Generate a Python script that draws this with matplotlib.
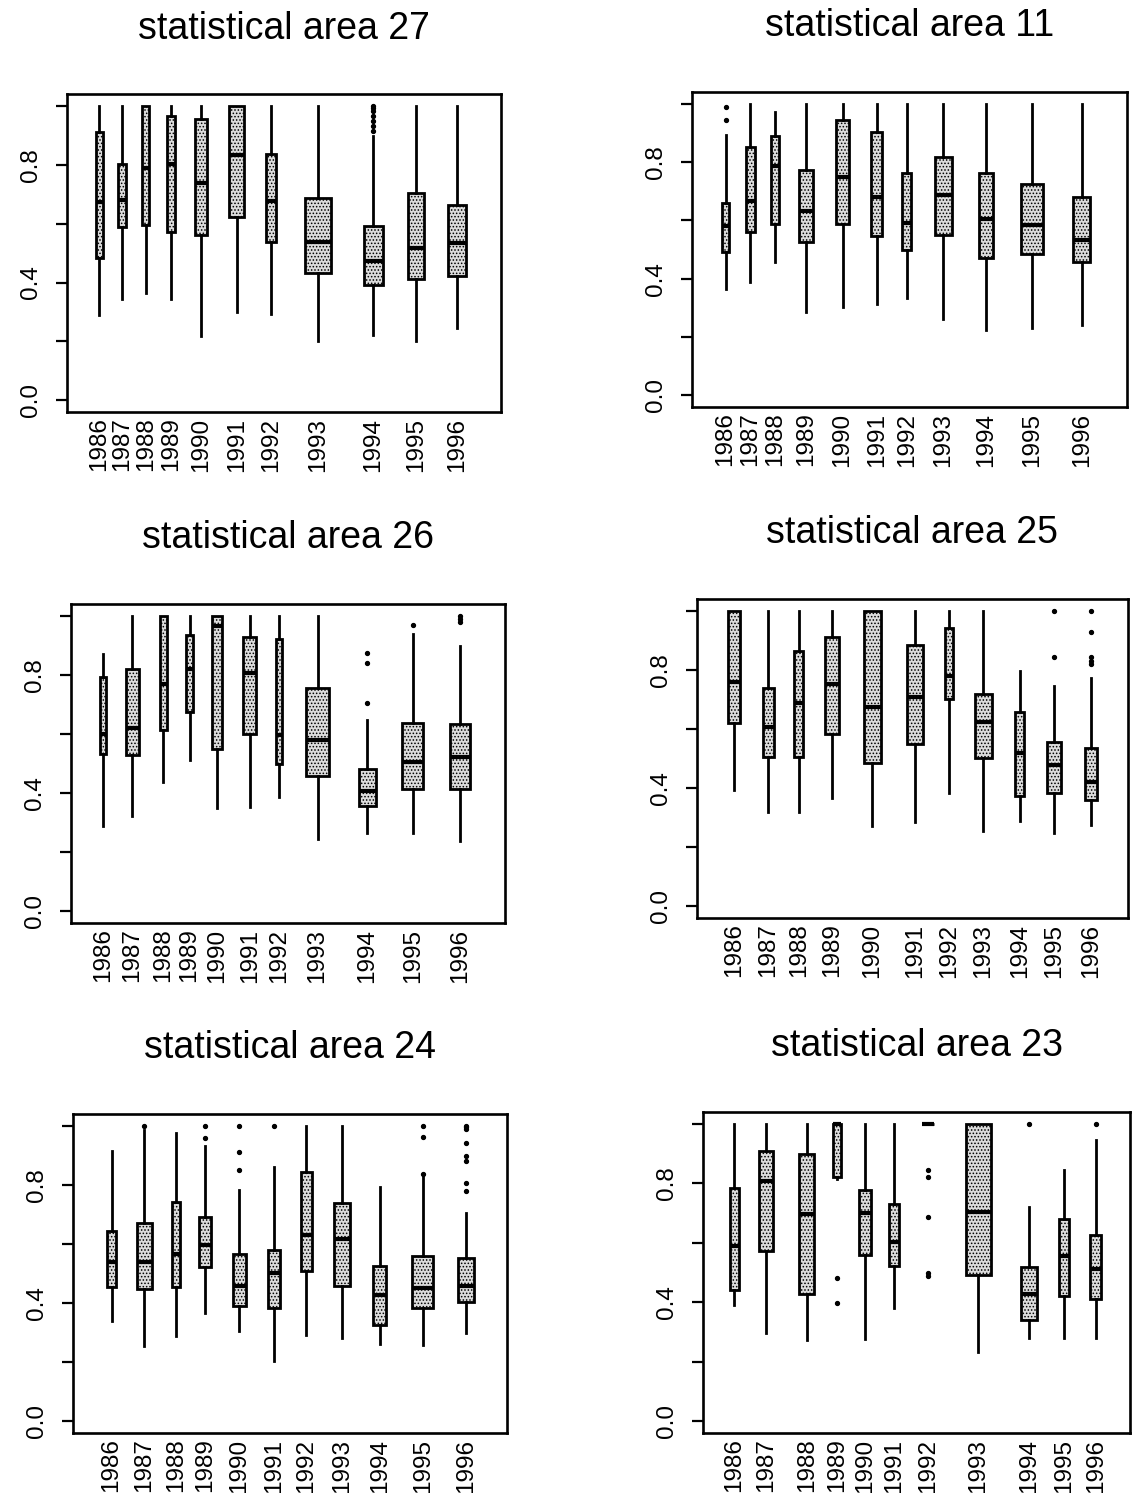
import numpy as np
import matplotlib.pyplot as plt

plt.rcParams['font.family'] = ['Liberation Sans', 'DejaVu Sans']
plt.rcParams['hatch.linewidth'] = 0.7

years = [str(y) for y in range(1986, 1997)]

# five-number summaries per year: (lower whisker, q1, median, q3, upper whisker)
area27 = [
    (0.288, 0.482, 0.672, 0.911, 1.0),
    (0.343, 0.590, 0.681, 0.803, 1.0),
    (0.364, 0.596, 0.789, 1.0, 1.0),
    (0.343, 0.573, 0.803, 0.966, 1.0),
    (0.220, 0.561, 0.738, 0.954, 1.0),
    (0.300, 0.621, 0.833, 1.0, 1.0),
    (0.294, 0.539, 0.678, 0.835, 1.0),
    (0.200, 0.431, 0.536, 0.687, 1.0),
    (0.222, 0.393, 0.473, 0.593, 0.897),
    (0.200, 0.411, 0.518, 0.704, 1.0),
    (0.245, 0.423, 0.535, 0.662, 1.0),
]
out27 = {8: [1.0, 0.994, 0.981, 0.966, 0.949, 0.932, 0.915]}

area11 = [
    (0.366, 0.492, 0.580, 0.660, 0.894),
    (0.389, 0.561, 0.666, 0.850, 1.0),
    (0.458, 0.589, 0.785, 0.888, 0.971),
    (0.285, 0.525, 0.631, 0.774, 1.0),
    (0.302, 0.589, 0.748, 0.945, 1.0),
    (0.312, 0.546, 0.680, 0.902, 1.0),
    (0.334, 0.497, 0.591, 0.763, 1.0),
    (0.263, 0.548, 0.688, 0.817, 1.0),
    (0.224, 0.471, 0.603, 0.763, 1.0),
    (0.232, 0.486, 0.583, 0.725, 1.0),
    (0.241, 0.457, 0.534, 0.680, 1.0),
]
out11 = {0: [0.989, 0.945]}

area26 = [
    (0.287, 0.533, 0.599, 0.791, 0.870),
    (0.323, 0.527, 0.621, 0.820, 1.0),
    (0.437, 0.612, 0.768, 1.0, 1.0),
    (0.510, 0.675, 0.819, 0.935, 1.0),
    (0.349, 0.550, 0.964, 1.0, 1.0),
    (0.351, 0.601, 0.807, 0.927, 1.0),
    (0.388, 0.499, 0.595, 0.922, 1.0),
    (0.244, 0.459, 0.578, 0.754, 1.0),
    (0.266, 0.357, 0.406, 0.480, 0.646),
    (0.263, 0.414, 0.505, 0.638, 0.939),
    (0.238, 0.414, 0.522, 0.635, 0.896),
]
out26 = {8: [0.875, 0.839, 0.706], 9: [0.967], 10: [1.0, 0.99, 0.978]}

area25 = [
    (0.395, 0.621, 0.759, 1.0, 1.0),
    (0.320, 0.505, 0.607, 0.738, 1.0),
    (0.319, 0.505, 0.689, 0.864, 1.0),
    (0.365, 0.582, 0.751, 0.913, 1.0),
    (0.271, 0.486, 0.676, 1.0, 1.0),
    (0.285, 0.550, 0.708, 0.884, 1.0),
    (0.384, 0.703, 0.780, 0.941, 1.0),
    (0.256, 0.501, 0.624, 0.718, 1.0),
    (0.288, 0.373, 0.520, 0.658, 0.797),
    (0.249, 0.384, 0.478, 0.557, 0.746),
    (0.275, 0.359, 0.420, 0.534, 0.774),
]
out25 = {9: [1.0, 0.844], 10: [1.0, 0.927, 0.844, 0.830, 0.819]}

area24 = [
    (0.340, 0.453, 0.539, 0.644, 0.916),
    (0.253, 0.449, 0.539, 0.671, 0.987),
    (0.287, 0.455, 0.565, 0.742, 0.974),
    (0.367, 0.522, 0.596, 0.691, 0.933),
    (0.306, 0.390, 0.458, 0.567, 0.784),
    (0.204, 0.384, 0.500, 0.579, 0.860),
    (0.292, 0.509, 0.629, 0.845, 1.0),
    (0.281, 0.457, 0.618, 0.739, 1.0),
    (0.262, 0.326, 0.427, 0.525, 0.792),
    (0.258, 0.382, 0.452, 0.558, 0.826),
    (0.300, 0.402, 0.458, 0.551, 0.704),
]
out24 = {1: [1.0], 3: [1.0, 0.958], 4: [1.0, 0.910, 0.851], 5: [1.0],
         9: [1.0, 0.963, 0.835],
         10: [1.0, 0.995, 0.99, 0.940, 0.899, 0.880, 0.807, 0.779]}

area23 = [
    (0.390, 0.442, 0.588, 0.784, 1.0),
    (0.298, 0.573, 0.807, 0.910, 1.0),
    (0.272, 0.427, 0.697, 0.899, 1.0),
    (0.815, 0.820, 1.0, 1.0, 1.0),
    (0.275, 0.558, 0.699, 0.779, 1.0),
    (0.382, 0.522, 0.601, 0.730, 1.0),
    (1.0, 1.0, 1.0, 1.0, 1.0),
    (0.233, 0.491, 0.702, 1.0, 1.0),
    (0.278, 0.339, 0.429, 0.519, 0.722),
    (0.278, 0.421, 0.556, 0.680, 0.845),
    (0.278, 0.410, 0.511, 0.627, 0.947),
]
out23 = {3: [0.48, 0.396], 6: [0.845, 0.822, 0.685, 0.498, 0.487],
         8: [1.0], 10: [1.0]}

# box layout on a 0-100 axis: centres and widths
pos27 = [7.4, 12.7, 18.2, 23.9, 30.8, 39.1, 47.0, 57.9, 70.6, 80.4, 89.9]
wid27 = [1.6, 1.8, 1.6, 1.8, 2.8, 3.5, 2.5, 6.0, 4.4, 3.5, 4.1]
pos11 = [7.7, 13.4, 19.1, 26.2, 34.6, 42.5, 49.4, 57.8, 67.6, 78.2, 89.6]
wid11 = [1.8, 2.1, 1.8, 3.0, 3.2, 2.5, 2.1, 4.1, 3.4, 5.1, 3.9]
pos26 = [7.4, 14.1, 21.3, 27.3, 33.7, 41.2, 47.9, 56.8, 68.3, 78.7, 89.6]
wid26 = [1.4, 3.0, 1.8, 1.8, 2.3, 3.0, 1.4, 5.3, 3.7, 4.8, 4.6]
pos25 = [8.6, 16.5, 23.6, 31.4, 40.7, 50.6, 58.5, 66.4, 74.9, 82.9, 91.4]
wid25 = [2.8, 2.6, 2.1, 3.2, 3.9, 3.9, 1.9, 3.9, 2.1, 3.2, 2.8]
pos24 = [8.9, 16.4, 23.7, 30.4, 38.3, 46.4, 53.8, 62.0, 70.7, 80.6, 90.6]
wid24 = [2.1, 3.5, 1.8, 2.8, 3.0, 2.8, 2.5, 3.7, 3.0, 4.8, 3.7]
pos23 = [7.3, 14.8, 24.3, 31.3, 37.9, 44.8, 52.8, 64.5, 76.3, 84.6, 92.0]
wid23 = [2.1, 3.3, 3.5, 1.9, 2.8, 2.3, 2.8, 5.9, 3.7, 2.3, 2.6]


def make_stats(rows, fliers):
    st = []
    for i, (lo, q1, med, q3, hi) in enumerate(rows):
        st.append(dict(whislo=lo, q1=q1, med=med, q3=q3, whishi=hi,
                       fliers=fliers.get(i, [])))
    return st


def draw(ax, title, rows, fliers, pos, wid):
    ax.bxp(make_stats(rows, fliers), positions=pos, widths=wid,
           patch_artist=True, showcaps=False, manage_ticks=False,
           boxprops=dict(facecolor='#dcdcdc', edgecolor='black',
                         linewidth=2.0, hatch='.....'),
           whiskerprops=dict(color='black', linewidth=2.0),
           medianprops=dict(color='black', linewidth=3.0,
                            solid_capstyle='butt'),
           flierprops=dict(marker='o', markersize=2.8, markerfacecolor='black',
                           markeredgecolor='black', linestyle='none'))
    ax.set_xlim(0, 100)
    ax.set_ylim(-0.04, 1.04)
    ax.set_xticks(pos, years, rotation=90, fontsize=17.5)
    ax.tick_params(axis='x', length=0, pad=4)
    ax.set_yticks(np.arange(0, 1.01, 0.2), ['0.0', '', '0.4', '', '0.8', ''])
    ax.tick_params(axis='y', length=8, width=1.6, pad=10, labelsize=17.5)
    for lab in ax.get_yticklabels():
        lab.set_rotation(90)
        lab.set_va('center')
    for sp in ax.spines.values():
        sp.set_linewidth(1.9)
    ax.set_title(title, fontsize=27, pad=40)


fig = plt.figure(figsize=(11.35, 14.93), dpi=100)

panels = [
    ([0.0590, 0.7240, 0.3824, 0.2130], 'statistical area 27', area27, out27, pos27, wid27),
    ([0.6097, 0.7274, 0.3833, 0.2110], 'statistical area 11', area11, out11, pos11, wid11),
    ([0.0626, 0.3818, 0.3824, 0.2137], 'statistical area 26', area26, out26, pos26, wid26),
    ([0.6141, 0.3851, 0.3797, 0.2137], 'statistical area 25', area25, out25, pos25, wid25),
    ([0.0643, 0.0402, 0.3824, 0.2137], 'statistical area 24', area24, out24, pos24, wid24),
    ([0.6194, 0.0402, 0.3762, 0.2150], 'statistical area 23', area23, out23, pos23, wid23),
]

for rect, title, rows, fl, pos, wid in panels:
    ax = fig.add_axes(rect)
    draw(ax, title, rows, fl, pos, wid)

fig.savefig('out.png', dpi=100)
